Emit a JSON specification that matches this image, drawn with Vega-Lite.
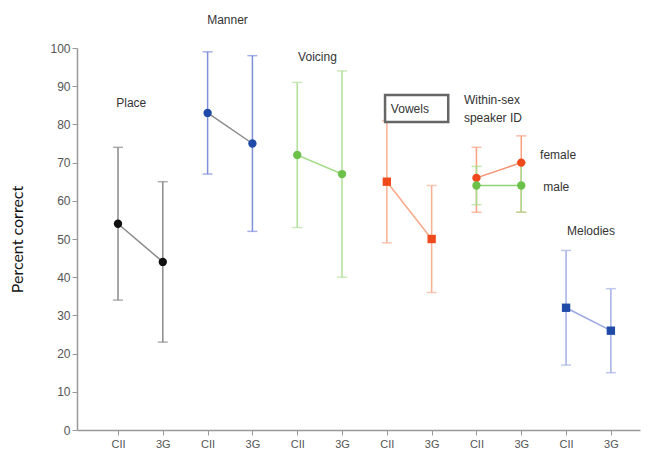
{
  "$schema": "https://vega.github.io/schema/vega-lite/v6.json",
  "width": 563,
  "height": 382,
  "autosize": {"type": "none"},
  "padding": {"left": 77, "top": 48, "right": 14, "bottom": 30},
  "config": {
    "view": {"stroke": null},
    "font": "Liberation Sans",
    "axisY": {
      "labelOverlap": false,
      "grid": false,
      "domainColor": "#999999",
      "domainWidth": 1.5,
      "tickColor": "#999999",
      "tickSize": 5,
      "labelColor": "#555555",
      "labelFontSize": 12,
      "labelPadding": 2,
      "titleFont": "Lato",
      "titleFontSize": 16,
      "titleFontWeight": "normal",
      "titleColor": "#111111",
      "titlePadding": 24
    }
  },
  "datasets": {
    "scores": [
      {"series": "Place", "slot": 1, "device": "CII", "mean": 54, "lo": 34, "hi": 74},
      {"series": "Place", "slot": 2, "device": "3G", "mean": 44, "lo": 23, "hi": 65},
      {"series": "Manner", "slot": 3, "device": "CII", "mean": 83, "lo": 67, "hi": 99},
      {"series": "Manner", "slot": 4, "device": "3G", "mean": 75, "lo": 52, "hi": 98},
      {"series": "Voicing", "slot": 5, "device": "CII", "mean": 72, "lo": 53, "hi": 91},
      {"series": "Voicing", "slot": 6, "device": "3G", "mean": 67, "lo": 40, "hi": 94},
      {"series": "Vowels", "slot": 7, "device": "CII", "mean": 65, "lo": 49, "hi": 81},
      {"series": "Vowels", "slot": 8, "device": "3G", "mean": 50, "lo": 36, "hi": 64},
      {"series": "female", "slot": 9, "device": "CII", "mean": 66, "lo": 57, "hi": 74},
      {"series": "female", "slot": 10, "device": "3G", "mean": 70, "lo": 57, "hi": 77},
      {"series": "male", "slot": 9, "device": "CII", "mean": 64, "lo": 59, "hi": 69},
      {"series": "male", "slot": 10, "device": "3G", "mean": 64, "lo": 57, "hi": 70},
      {"series": "Melodies", "slot": 11, "device": "CII", "mean": 32, "lo": 17, "hi": 47},
      {"series": "Melodies", "slot": 12, "device": "3G", "mean": 26, "lo": 15, "hi": 37}
    ],
    "labels": [
      {"text": "Place", "slot": 0.96, "value": 85.6},
      {"text": "Manner", "slot": 2.99, "value": 107.3},
      {"text": "Voicing", "slot": 5.02, "value": 97.6},
      {"text": "Vowels", "slot": 7.09, "value": 84.0},
      {"text": "Within-sex", "slot": 8.72, "value": 86.4},
      {"text": "speaker ID", "slot": 8.72, "value": 81.7},
      {"text": "female", "slot": 10.42, "value": 72.0},
      {"text": "male", "slot": 10.49, "value": 63.6},
      {"text": "Melodies", "slot": 11.02, "value": 52.1}
    ]
  },
  "layer": [
    {
      "data": {"name": "scores"},
      "layer": [
        {
          "mark": {"type": "rule", "strokeWidth": 1.5},
          "encoding": {
            "y": {
              "field": "lo", "type": "quantitative",
              "scale": {"domain": [0, 100], "nice": false},
              "axis": {"title": "Percent correct", "values": [0, 10, 20, 30, 40, 50, 60, 70, 80, 90, 100]}
            },
            "y2": {"field": "hi"}
          }
        },
        {
          "mark": {"type": "tick", "orient": "horizontal", "size": 10, "thickness": 1.5},
          "encoding": {
            "y": {
              "field": "lo", "type": "quantitative",
              "axis": {"title": "Percent correct", "values": [0, 10, 20, 30, 40, 50, 60, 70, 80, 90, 100]}
            }
          }
        },
        {
          "mark": {"type": "tick", "orient": "horizontal", "size": 10, "thickness": 1.5},
          "encoding": {
            "y": {
              "field": "hi", "type": "quantitative",
              "axis": {"title": "Percent correct", "values": [0, 10, 20, 30, 40, 50, 60, 70, 80, 90, 100]}
            }
          }
        }
      ],
      "encoding": {
        "x": {
          "field": "slot", "type": "quantitative",
          "scale": {"domain": [0.085, 12.65], "nice": false, "zero": false},
          "axis": {
            "title": null,
            "values": [1, 2, 3, 4, 5, 6, 7, 8, 9, 10, 11, 12],
            "labelExpr": "datum.value % 2 == 1 ? 'CII' : '3G'",
            "labelOverlap": false,
            "grid": false,
            "domainColor": "#999999",
            "domainWidth": 1.5,
            "tickColor": "#999999",
            "tickSize": 5,
            "labelColor": "#555555",
            "labelFontSize": 11,
            "labelPadding": 3
          }
        },
        "color": {
          "field": "series", "type": "nominal", "legend": null,
          "scale": {
            "domain": ["Place", "Manner", "Voicing", "Vowels", "female", "male", "Melodies"],
            "range": ["#8a8a8a", "#7f8fdc", "#b2e09c", "#f9b094", "#f9a080", "#a6dc8c", "#a3b0e6"]
          }
        }
      }
    },
    {
      "data": {"name": "scores"},
      "mark": {"type": "line", "strokeWidth": 1.5},
      "encoding": {
        "x": {"field": "slot", "type": "quantitative"},
        "y": {
          "field": "mean", "type": "quantitative",
          "axis": {"title": "Percent correct", "values": [0, 10, 20, 30, 40, 50, 60, 70, 80, 90, 100]}
        },
        "detail": {"field": "series"},
        "color": {
          "field": "series", "type": "nominal", "legend": null,
          "scale": {
            "domain": ["Place", "Manner", "Voicing", "Vowels", "female", "male", "Melodies"],
            "range": ["#8a8a8a", "#8a8a8a", "#a6dc8c", "#f9a888", "#f79070", "#8fd474", "#9aa8e3"]
          }
        }
      }
    },
    {
      "data": {"name": "scores"},
      "mark": {"type": "point", "filled": true, "opacity": 1, "size": 70},
      "encoding": {
        "x": {"field": "slot", "type": "quantitative"},
        "y": {
          "field": "mean", "type": "quantitative",
          "axis": {"title": "Percent correct", "values": [0, 10, 20, 30, 40, 50, 60, 70, 80, 90, 100]}
        },
        "shape": {
          "field": "series", "type": "nominal", "legend": null,
          "scale": {
            "domain": ["Place", "Manner", "Voicing", "Vowels", "female", "male", "Melodies"],
            "range": ["circle", "circle", "circle", "square", "circle", "circle", "square"]
          }
        },
        "color": {
          "field": "series", "type": "nominal", "legend": null,
          "scale": {
            "domain": ["Place", "Manner", "Voicing", "Vowels", "female", "male", "Melodies"],
            "range": ["#111111", "#1f4aa8", "#6cc14a", "#f04a1c", "#f04a1c", "#6cc14a", "#1f4aa8"]
          }
        }
      }
    },
    {
      "data": {"values": [{}]},
      "mark": {"type": "rect", "fill": "#ffffff", "stroke": "#666666", "strokeWidth": 2.5},
      "encoding": {
        "x": {"datum": 6.96},
        "x2": {"datum": 8.37},
        "y": {
          "datum": 87.7,
          "axis": {"title": "Percent correct", "values": [0, 10, 20, 30, 40, 50, 60, 70, 80, 90, 100]}
        },
        "y2": {"datum": 80.6}
      }
    },
    {
      "data": {"name": "labels"},
      "mark": {"type": "text", "align": "left", "baseline": "middle", "fontSize": 12, "fill": "#333333", "font": "Liberation Sans"},
      "encoding": {
        "x": {"field": "slot", "type": "quantitative"},
        "y": {
          "field": "value", "type": "quantitative",
          "axis": {"title": "Percent correct", "values": [0, 10, 20, 30, 40, 50, 60, 70, 80, 90, 100]}
        },
        "text": {"field": "text"}
      }
    }
  ],
  "resolve": {"scale": {"color": "independent"}}
}
